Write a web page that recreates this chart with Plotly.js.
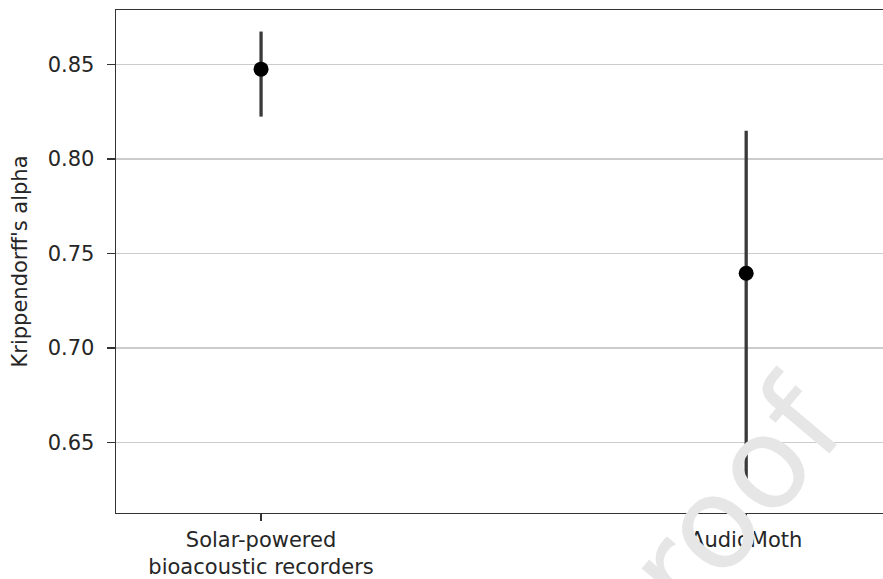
<!DOCTYPE html>
<html>
<head>
<meta charset="utf-8">
<script src="https://cdn.plot.ly/plotly-3.0.1.min.js"></script>
<style>html,body{margin:0;padding:0;background:#fff;}#chart{width:883px;height:579px;}</style>
</head>
<body>
<div id="chart"></div>
<script>
// Data
const categories = ["Solar-powered<br>bioacoustic recorders", "AudioMoth"];
const alphaValues = [0.8475, 0.7395];
const upperCI = [0.8674, 0.8149];
const lowerCI = [0.8224, 0.6298];
const yTickValues = [0.65, 0.70, 0.75, 0.80, 0.85];
const yTickLabels = ["0.65", "0.70", "0.75", "0.80", "0.85"];

const errPlus = alphaValues.map((v, i) => upperCI[i] - v);
const errMinus = alphaValues.map((v, i) => v - lowerCI[i]);

const font = {family: "DejaVu Sans", size: 21, color: "#262626"};

const trace = {
  type: "scatter",
  mode: "markers",
  x: categories,
  y: alphaValues,
  marker: {color: "#000000", size: 15},
  error_y: {
    type: "data",
    symmetric: false,
    array: errPlus,
    arrayminus: errMinus,
    color: "#3a3a3a",
    thickness: 3.3,
    width: 0
  },
  showlegend: false,
  hoverinfo: "skip"
};

const W = 883, H = 579, ML = 116, MR = 0, MT = 10, MB = 66;
function px2paperX(px) { return (px - ML) / (W - ML - MR); }
function px2paperY(py) { return (H - MB - py) / (H - MT - MB); }

const layout = {
  width: W,
  height: H,
  margin: {l: ML, r: MR, t: MT, b: MB, pad: 0},
  paper_bgcolor: "#ffffff",
  plot_bgcolor: "#ffffff",
  font: font,
  showlegend: false,
  xaxis: {
    type: "category",
    range: [-0.299, 1.282],
    showgrid: false,
    zeroline: false,
    showline: true,
    linecolor: "#333333",
    linewidth: 1.4,
    mirror: true,
    ticks: "outside",
    ticklen: 7,
    tickwidth: 1.4,
    tickcolor: "#333333",
    tickfont: font,
    fixedrange: true
  },
  yaxis: {
    range: [0.6127, 0.8788],
    tickvals: yTickValues,
    ticktext: yTickLabels,
    showgrid: true,
    gridcolor: "#cccccc",
    gridwidth: 1.5,
    zeroline: false,
    showline: true,
    linecolor: "#333333",
    linewidth: 1.4,
    mirror: false,
    ticks: "outside",
    ticklen: 8,
    tickwidth: 1.4,
    tickcolor: "#333333",
    tickfont: font,
    ticklabelstandoff: 8,
    title: {text: "Krippendorff's alpha", font: font, standoff: 14},
    fixedrange: true
  },
  annotations: [{
    xref: "paper", yref: "paper",
    x: px2paperX(709), y: px2paperY(527),
    xanchor: "center", yanchor: "middle",
    text: "proof",
    textangle: -50,
    showarrow: false,
    font: {family: "DejaVu Sans", size: 128, color: "rgb(230,230,230)"}
  }]
};

Plotly.newPlot("chart", [trace], layout, {displayModeBar: false, staticPlot: true});
</script>
</body>
</html>
